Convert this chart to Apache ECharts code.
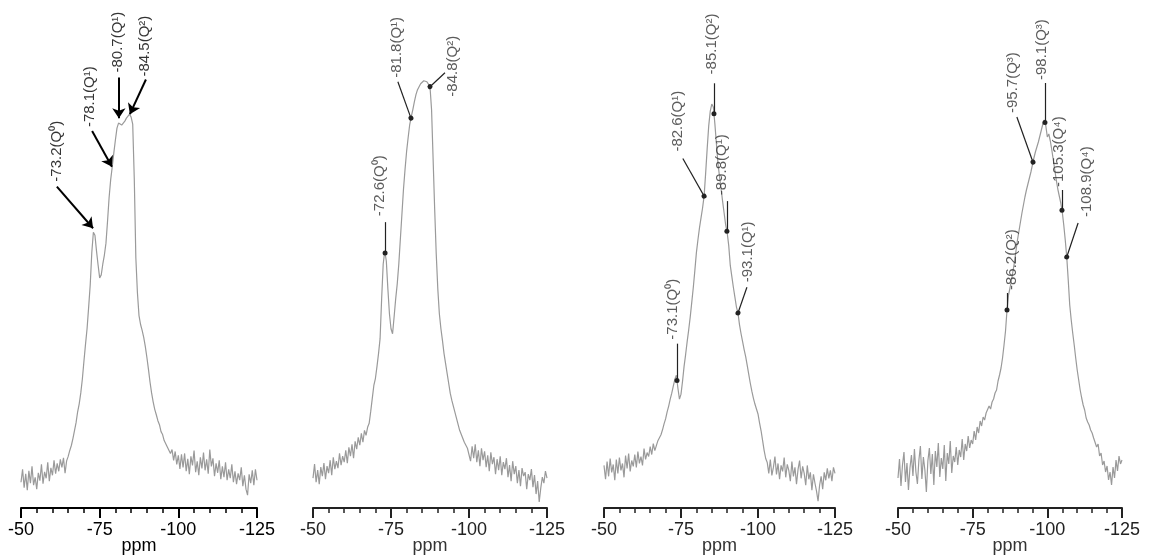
<!DOCTYPE html>
<html><head><meta charset="utf-8">
<script src="https://cdn.jsdelivr.net/npm/echarts@6/dist/echarts.min.js"></script>
<style>html,body{margin:0;padding:0;background:#fff}#c{width:1153px;height:560px}</style>
</head><body><div id="c"></div>
<script>
// sampling grid of the spectra (ppm)
const ppmStart = -50, ppmStep = -0.5;
const xMin = -125, xMax = -50, xInterval = 25;

// spectrum 1 (-50 ... -125 ppm, step 0.5)
const spec1 = [
 5.2,7.8,4.1,6.9,3.6,7.5,5.0,8.4,4.6,6.2,
 3.8,7.1,5.5,8.8,4.9,7.3,6.0,9.2,5.4,8.1,
 6.6,9.6,6.9,9.0,7.4,9.8,8.2,10.1,7.0,9.5,
 10.4,11.6,12.6,14.0,15.6,17.2,19.4,21.0,23.2,26.0,
 29.6,33.0,36.2,40.5,45.0,51.5,55.6,55.0,51.8,49.0,
 46.4,47.0,49.2,51.0,53.4,57.8,62.6,66.2,68.8,71.6,
 74.2,76.6,77.6,77.4,77.2,77.6,78.0,78.6,79.0,79.4,
 78.8,77.4,66.4,50.4,43.4,38.8,37.0,35.8,34.4,32.6,
 30.4,28.0,25.4,23.2,21.4,19.9,18.8,17.6,16.8,15.4,
 14.8,13.6,13.4,12.3,12.6,11.0,11.8,9.6,11.4,8.8,
 10.6,7.9,10.8,8.2,11.0,7.4,9.9,6.8,10.4,8.6,
 11.6,7.2,9.4,6.6,10.2,8.0,11.2,7.6,9.8,6.9,
 11.8,8.4,10.0,6.4,9.0,7.1,9.6,5.8,8.4,6.2,
 9.2,5.6,7.8,6.0,8.8,5.2,7.4,4.8,7.0,5.6,
 8.2,4.4,6.6,3.8,2.6,6.8,5.0,7.6,4.6,7.8,
 5.6];
const spec2 = [
 6.0,8.8,5.2,7.6,4.8,8.2,6.4,9.0,5.8,8.4,
 7.0,9.6,6.6,10.2,7.8,9.4,8.0,11.0,8.6,10.4,
 9.2,11.6,9.0,12.2,10.4,12.8,10.0,13.4,11.8,14.2,
 12.6,15.0,13.2,15.6,14.6,16.2,17.0,19.4,22.0,24.6,
 26.0,28.4,31.0,34.0,42.0,49.0,51.6,49.6,44.0,39.0,
 36.0,35.0,38.4,42.0,45.0,49.0,54.0,59.0,64.0,68.0,
 71.6,74.4,77.0,78.6,80.0,81.6,83.0,84.0,84.6,85.2,
 85.4,85.8,85.6,85.6,85.4,84.6,80.0,70.0,60.0,51.0,
 44.0,39.0,36.0,33.6,31.0,29.0,27.0,25.0,23.0,21.6,
 20.4,19.2,18.0,16.8,15.6,14.8,14.0,13.2,12.6,12.0,
 11.6,9.4,12.4,10.0,12.8,9.2,11.6,8.4,12.0,9.6,
 11.4,8.2,10.6,7.4,11.2,8.8,10.2,6.8,9.8,7.6,
 10.4,6.6,9.2,7.8,10.0,6.2,8.6,5.4,9.4,6.8,
 8.4,5.0,7.6,4.4,8.0,6.4,7.2,3.8,6.8,5.6,
 7.8,4.2,6.6,2.8,5.4,1.2,4.0,6.2,5.0,7.4,
 6.0];
const spec3 = [
 8.6,5.8,9.4,6.4,10.0,7.2,8.8,5.6,9.8,7.0,
 10.2,7.6,9.0,6.2,10.6,8.0,11.0,7.4,9.6,8.4,
 10.8,8.2,11.4,9.0,10.4,8.6,12.0,9.8,11.2,10.4,
 12.4,10.8,13.0,11.6,12.6,13.6,13.4,14.8,15.8,17.0,
 18.0,19.4,20.6,22.0,23.2,24.6,26.0,26.8,24.2,22.0,
 23.0,25.6,28.6,31.0,33.6,36.0,38.6,41.6,44.6,48.0,
 51.6,54.2,56.6,58.6,60.6,63.0,67.6,72.6,77.2,80.2,
 81.6,81.0,77.6,73.6,69.6,67.0,64.6,62.0,59.6,57.2,
 55.6,53.0,49.0,46.8,44.6,42.6,40.6,39.4,37.0,35.2,
 33.6,32.0,30.6,28.8,27.0,25.2,23.6,22.2,21.0,20.0,
 19.0,17.2,15.6,13.6,11.6,10.0,9.2,7.0,9.8,6.6,
 8.2,10.4,6.8,9.0,5.8,8.6,7.4,10.2,6.2,8.8,
 7.6,5.4,9.4,6.4,8.2,4.8,7.8,9.6,6.0,8.4,
 7.0,4.6,8.6,5.8,7.2,3.6,6.8,5.0,3.4,1.4,
 4.6,6.4,3.8,7.2,5.6,8.0,6.0,7.6,5.4,8.2,
 7.0];
const spec4 = [
 6.0,9.8,4.4,8.6,11.2,5.2,9.0,3.6,8.0,10.6,
 6.4,11.8,7.2,4.8,9.6,12.4,5.8,10.2,7.6,3.2,
 9.4,12.0,6.8,10.8,4.6,11.4,8.2,13.0,6.2,10.0,
 7.8,12.6,5.4,11.0,8.8,13.4,7.0,10.4,9.2,12.2,
 8.6,11.6,10.2,13.8,9.6,12.8,11.4,14.4,12.0,13.6,
 12.8,15.4,13.6,16.2,15.0,17.4,16.4,18.2,17.6,19.0,
 18.6,20.4,19.8,21.2,21.8,23.0,23.6,25.4,26.6,28.0,
 30.0,32.6,35.4,39.6,42.6,44.0,45.6,47.4,49.2,51.4,
 53.6,55.4,57.2,59.0,60.6,62.2,63.6,64.8,66.0,67.2,
 68.6,70.0,71.2,72.2,73.2,74.4,75.6,76.8,77.6,76.4,
 74.2,74.8,73.4,71.6,69.6,67.6,65.6,63.8,62.4,61.0,
 59.2,56.6,53.6,50.2,45.6,40.6,37.6,35.0,32.6,30.0,
 27.6,25.6,23.6,22.0,20.6,19.6,18.0,17.2,16.6,15.6,
 15.0,14.0,13.6,12.2,12.8,10.4,11.0,8.6,9.4,7.2,
 8.4,5.6,7.2,4.6,8.2,6.0,9.6,7.4,10.4,8.8,
 9.6];

// panel 1 annotations (arrows)
const labels1 = ['-73.2(Q⁰)', '-78.1(Q¹)', '-80.7(Q¹)', '-84.5(Q²)'];
const labelAt1 = [[-61.4, 65.8], [-71.9, 76.8], [-80.8, 87.8], [-89.4, 87.0]];
const arrowFrom1 = [[-61.4, 64.8], [-72.6, 76.0], [-81.1, 86.8], [-89.7, 86.4]];
const arrowTo1 = [[-72.9, 56.4], [-78.9, 68.8], [-81.1, 78.6], [-84.6, 79.4]];

// panels 2-4 annotations (leader lines ending in a dot on the curve)
const labels2 = ['-72.6(Q⁰)', '-81.8(Q¹)', '-84.8(Q²)'];
const labelAt2 = [[-71.5, 58.6], [-76.9, 86.4], [-94.9, 82.6]];
const leadFrom2 = [[-73.1, 57.4], [-77.2, 85.6], [-92.3, 87.4]];
const dotPpm2 = [-73.1, -81.4, -87.5];

const labels3 = ['-85.1(Q²)', '-82.6(Q¹)', '-89.8(Q¹)', '-93.1(Q¹)', '-73.1(Q⁰)'];
const labelAt3 = [[-85.1, 87.6], [-74.0, 72.0], [-88.3, 63.2], [-96.8, 45.6], [-72.4, 34.0]];
const leadFrom3 = [[-85.7, 85.8], [-75.6, 70.6], [-89.9, 62.0], [-96.4, 44.6], [-73.7, 33.2]];
const dotPpm3 = [-85.7, -82.5, -89.9, -93.5, -73.7];

const labels4 = ['-98.1(Q³)', '-95.7(Q³)', '-105.3(Q⁴)', '-108.9(Q⁴)', '-86.2(Q²)'];
const labelAt4 = [[-98.2, 85.6], [-88.5, 79.0], [-103.9, 64.2], [-113.3, 58.2], [-88.2, 43.6]];
const leadFrom4 = [[-99.2, 85.0], [-89.8, 78.2], [-104.9, 63.6], [-110.3, 57.0], [-86.5, 43.0]];
const dotPpm4 = [-99.2, -95.2, -104.9, -106.5, -86.5];

function onCurve(spec, ppm) {
  const k = (ppm - ppmStart) / ppmStep;
  const lo = Math.floor(k), f = k - lo;
  return spec[lo] * (1 - f) + spec[Math.min(lo + 1, spec.length - 1)] * f;
}

const panels = [
  {spec: spec1, axisY: 512, left: 21, width: 236, txt: '#000', ax: '#000',
   labels: labels1, labelAt: labelAt1,
   segs: arrowFrom1.map((a, k) => [a, arrowTo1[k]]), arrow: true},
  {spec: spec2, axisY: 510, left: 313, width: 234, txt: '#333', ax: '#222',
   labels: labels2, labelAt: labelAt2,
   segs: leadFrom2.map((a, k) => [a, [dotPpm2[k], onCurve(spec2, dotPpm2[k])]]), arrow: false},
  {spec: spec3, axisY: 513, left: 604, width: 231, txt: '#333', ax: '#222',
   labels: labels3, labelAt: labelAt3,
   segs: leadFrom3.map((a, k) => [a, [dotPpm3[k], onCurve(spec3, dotPpm3[k])]]), arrow: false},
  {spec: spec4, axisY: 508, left: 898, width: 224, txt: '#333', ax: '#222',
   labels: labels4, labelAt: labelAt4,
   segs: leadFrom4.map((a, k) => [a, [dotPpm4[k], onCurve(spec4, dotPpm4[k])]]), arrow: false}
];

const FONT = "'Liberation Sans', Arial, sans-serif";
const grid = [], xAxis = [], yAxis = [], series = [];
panels.forEach((p, i) => {
  grid.push({left: p.left, width: p.width, top: p.axisY - 500, height: 500});
  xAxis.push({
    gridIndex: i, type: 'value', min: xMin, max: xMax, interval: xInterval, inverse: true,
    axisLine: {lineStyle: {color: p.ax, width: 2}},
    axisTick: {inside: false, length: 10, lineStyle: {color: p.ax, width: 2}},
    minorTick: {show: true, splitNumber: 5, length: 5, lineStyle: {color: p.ax, width: 1.5}},
    splitLine: {show: false}, minorSplitLine: {show: false},
    axisLabel: {fontSize: 18, fontFamily: FONT, color: p.txt === '#000' ? '#000' : '#222', margin: 13,
      showMinLabel: true, showMaxLabel: true},
    name: 'ppm', nameLocation: 'middle', nameGap: 29, nameMoveOverlap: false,
    nameTextStyle: {fontSize: 18, fontFamily: FONT, color: p.txt === '#000' ? '#000' : '#333'}
  });
  yAxis.push({gridIndex: i, type: 'value', min: 0, max: 100, show: false});
  series.push({
    type: 'line', xAxisIndex: i, yAxisIndex: i, showSymbol: false, silent: true,
    data: p.spec.map((v, k) => [ppmStart + ppmStep * k, v]),
    lineStyle: {color: '#9a9a9a', width: 1.2},
    markLine: {
      silent: true, animation: false,
      symbol: p.arrow ? ['none', 'arrow'] : ['none', 'circle'],
      symbolSize: p.arrow ? 10 : 5,
      label: {show: false},
      lineStyle: {color: p.arrow ? '#000' : '#222', width: p.arrow ? 2 : 1.2, type: 'solid'},
      emphasis: {disabled: true},
      data: p.segs.map(s => [{coord: s[0]}, {coord: s[1]}])
    }
  });
  series.push({
    type: 'scatter', xAxisIndex: i, yAxisIndex: i, silent: true, symbolSize: 1,
    itemStyle: {color: 'rgba(0,0,0,0)'},
    data: p.labels.map((t, k) => ({name: t, value: p.labelAt[k]})),
    label: {show: true, formatter: q => q.name, position: 'inside', rotate: 90,
      align: 'left', verticalAlign: 'middle', fontSize: 15, fontFamily: FONT, color: p.txt},
    z: 5
  });
});

const chart = echarts.init(document.getElementById('c'), null, {renderer: 'canvas'});
chart.setOption({animation: false, backgroundColor: '#fff', grid, xAxis, yAxis, series});
</script></body></html>
